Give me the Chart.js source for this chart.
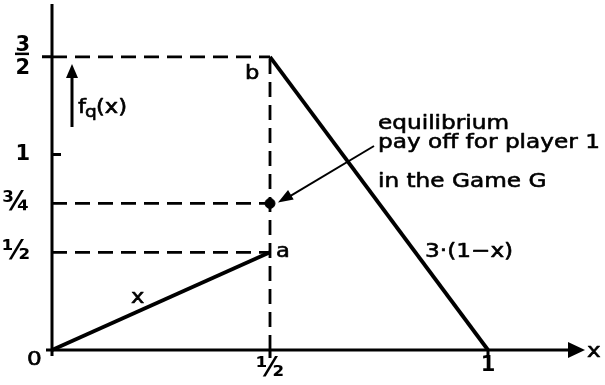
<!DOCTYPE html>
<html>
<head>
<meta charset="utf-8">
<script src="https://cdn.jsdelivr.net/npm/chart.js@4"></script>
<style>
  html, body { margin: 0; padding: 0; background: #fff; }
  #wrap { width: 605px; height: 385px; }
</style>
</head>
<body>
<div id="wrap"><canvas id="game"></canvas></div>
<script>
// payoff pieces of f_q(x)
var lowX = [0, 0.5];
var lowY = [0, 0.5];
var highX = [0.5, 1];
var highY = [1.5, 0];
// equilibrium payoff
var eqX = 0.5;
var eqY = 0.75;
// dashed guide levels
var guideLevels = [1.5, 0.75, 0.5];
var guideX = 0.5;

var xTickValues = [0.5, 1];
var xTickLabels = ['½', '1'];
var yTickValues = [0.5, 0.75, 1, 1.5];
var yTickLabels = ['½', '¾', '1', ['3', '2']];

var FONT = 'DejaVu Sans';
var INK = '#000';
var STRETCH = 1.16;

function pts(xs, ys) {
    return xs.map(function(v, i) { return { x: v, y: ys[i] }; });
}

var datasets = [];
datasets.push({ data: pts(lowX, lowY), borderColor: INK, borderWidth: 3.8, pointRadius: 0 });
datasets.push({ data: pts(highX, highY), borderColor: INK, borderWidth: 3.8, pointRadius: 0 });
guideLevels.forEach(function(lv) {
    datasets.push({ data: [{ x: 0, y: lv }, { x: guideX, y: lv }], borderColor: INK, borderWidth: 2.8, borderDash: [15, 8], pointRadius: 0 });
});
datasets.push({ data: [{ x: guideX, y: 0 }, { x: guideX, y: Math.max.apply(null, guideLevels) }], borderColor: INK, borderWidth: 2.8, borderDash: [15, 8], pointRadius: 0 });
datasets.push({ data: [{ x: eqX, y: eqY }], showLine: false, pointRadius: 5, pointBackgroundColor: INK, pointBorderColor: INK });

function arrowHead(ctx, x, y, ang, len, half) {
    ctx.beginPath();
    ctx.moveTo(x, y);
    ctx.lineTo(x - len * Math.cos(ang) + half * Math.sin(ang), y - len * Math.sin(ang) - half * Math.cos(ang));
    ctx.lineTo(x - len * Math.cos(ang) - half * Math.sin(ang), y - len * Math.sin(ang) + half * Math.cos(ang));
    ctx.closePath();
    ctx.fill();
}

// wide, pen-weight lettering
function wideText(ctx, txt, x, y, size) {
    ctx.save();
    ctx.font = size + 'px "' + FONT + '"';
    ctx.translate(x, y);
    ctx.scale(STRETCH, 1);
    ctx.lineWidth = 0.6;
    ctx.lineJoin = 'round';
    ctx.fillText(txt, 0, 0);
    ctx.strokeText(txt, 0, 0);
    ctx.restore();
}

function noPad(s) {
    s.paddingTop = 0; s.paddingBottom = 0; s.paddingLeft = 0; s.paddingRight = 0;
}

// axes, arrows and the hand-placed labels
var decor = {
    id: 'decor',
    beforeDatasetsDraw: function(chart) {
        var ctx = chart.ctx, xs = chart.scales.x, ys = chart.scales.y, a = chart.chartArea;
        var x0 = xs.getPixelForValue(0), y0 = ys.getPixelForValue(0);
        ctx.save();
        ctx.strokeStyle = INK;
        ctx.fillStyle = INK;
        ctx.lineWidth = 3;
        ctx.beginPath();
        ctx.moveTo(x0, y0 + 6);
        ctx.lineTo(x0, a.top - 2);
        ctx.moveTo(x0 - 6, y0);
        ctx.lineTo(a.right - 14, y0);
        ctx.stroke();
        arrowHead(ctx, a.right, y0, 0, 17, 8);
        // tick marks
        ctx.beginPath();
        var y1 = ys.getPixelForValue(1);
        ctx.moveTo(x0, y1); ctx.lineTo(x0 + 9, y1);
        var y32 = ys.getPixelForValue(1.5);
        ctx.moveTo(x0 - 10, y32); ctx.lineTo(x0, y32);
        xTickValues.forEach(function(v) {
            var px = xs.getPixelForValue(v);
            ctx.moveTo(px, y0); ctx.lineTo(px, y0 + 8);
        });
        ctx.stroke();
        ctx.restore();
    },
    afterDraw: function(chart) {
        var ctx = chart.ctx, xs = chart.scales.x, ys = chart.scales.y;
        var y0 = ys.getPixelForValue(0);
        ctx.save();
        ctx.fillStyle = INK;
        ctx.strokeStyle = INK;
        // fraction bar of 3/2
        ctx.lineWidth = 2.5;
        ctx.beginPath();
        ctx.moveTo(15, ys.getPixelForValue(1.5) - 3);
        ctx.lineTo(29, ys.getPixelForValue(1.5) - 3);
        ctx.stroke();

        ctx.textBaseline = 'alphabetic';
        ctx.textAlign = 'left';
        wideText(ctx, '0', 27, 365, 20);
        wideText(ctx, 'x', 587, y0 + 7, 20);
        var pe = { x: xs.getPixelForValue(eqX), y: ys.getPixelForValue(eqY) };
        wideText(ctx, 'b', pe.x - 25, ys.getPixelForValue(1.5) + 22, 19.5);
        wideText(ctx, 'a', pe.x + 6, ys.getPixelForValue(0.5) + 5, 19.5);
        wideText(ctx, 'x', 131, 303, 19.5);
        wideText(ctx, '3·(1−x)', 425, 257, 20);
        wideText(ctx, 'equilibrium', 378, 129, 20);
        wideText(ctx, 'pay off for player 1', 378, 148, 20);
        wideText(ctx, 'in the Game G', 378, 187, 20);

        // f_q(x) with upward arrow
        ctx.lineWidth = 3;
        ctx.beginPath();
        ctx.moveTo(72, 127);
        ctx.lineTo(72, 74);
        ctx.stroke();
        arrowHead(ctx, 72, 64, -Math.PI / 2, 14, 6);
        wideText(ctx, 'f', 78, 113, 19.5);
        wideText(ctx, 'q', 85, 117, 16);
        wideText(ctx, '(x)', 96, 113, 19.5);

        // pointer to the equilibrium point
        ctx.lineWidth = 2;
        ctx.beginPath();
        ctx.moveTo(374, 146);
        ctx.lineTo(pe.x + 18, pe.y - 6);
        ctx.stroke();
        var ang = Math.atan2(pe.y - 146, pe.x + 8 - 374);
        arrowHead(ctx, pe.x + 8, pe.y - 1, ang, 15, 5.5);
        ctx.restore();
    }
};

function tickFont(ctx) {
    var lbl = ctx.tick && ctx.tick.label;
    var frac = lbl === '½' || lbl === '¾';
    return { family: FONT, size: frac ? 27 : 21, weight: 'bold', lineHeight: 1.1 };
}

new Chart(document.getElementById('game'), {
    type: 'scatter',
    data: { datasets: datasets },
    options: {
        responsive: true,
        maintainAspectRatio: false,
        animation: false,
        events: [],
        layout: { padding: { top: 5, right: 20, left: 0, bottom: 0 } },
        elements: { line: { tension: 0, fill: false } },
        datasets: { scatter: { showLine: true, clip: false } },
        plugins: { legend: { display: false }, tooltip: { enabled: false } },
        scales: {
            x: {
                type: 'linear', min: 0, max: 533 / 436,
                grid: { display: false, tickLength: 0 }, border: { display: false },
                afterFit: function(s) { s.height = 35; noPad(s); },
                afterBuildTicks: function(s) { s.ticks = xTickValues.map(function(v) { return { value: v }; }); },
                ticks: {
                    padding: 4, color: INK, maxRotation: 0, autoSkip: false,
                    font: tickFont,
                    callback: function(v) { return xTickLabels[xTickValues.indexOf(v)]; }
                }
            },
            y: {
                type: 'linear', min: 0, max: 345 / 196,
                grid: { display: false, tickLength: 0 }, border: { display: false },
                afterFit: function(s) { s.width = 52; noPad(s); },
                afterBuildTicks: function(s) { s.ticks = yTickValues.map(function(v) { return { value: v }; }); },
                ticks: {
                    padding: 22, color: INK, autoSkip: false,
                    font: tickFont,
                    callback: function(v) { return yTickLabels[yTickValues.indexOf(v)]; }
                }
            }
        }
    },
    plugins: [decor]
});
</script>
</body>
</html>
